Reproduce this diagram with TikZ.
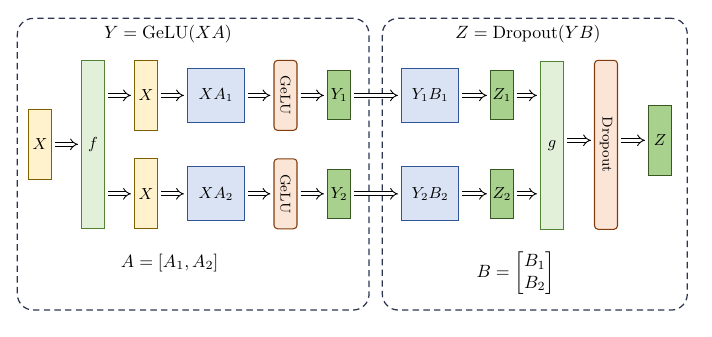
\documentclass[tikz,border=0pt]{standalone}
\usepackage{amsmath}
\usetikzlibrary{arrows.meta}
\def\PX{0.5625pt}
\definecolor{yelF}{HTML}{FFF2CC}\definecolor{yelD}{HTML}{7F6000}
\definecolor{lgF}{HTML}{E2F0D9}\definecolor{lgD}{HTML}{548235}
\definecolor{blF}{HTML}{DAE3F3}\definecolor{blD}{HTML}{2F5597}
\definecolor{orF}{HTML}{FBE5D6}\definecolor{orD}{HTML}{843C0C}
\definecolor{grF}{HTML}{A9D18E}\definecolor{grD}{HTML}{385723}
\definecolor{frameC}{HTML}{2B3550}
\tikzset{
  box/.style={draw, line width=0.6pt, inner sep=0pt, font=\small},
  yelbox/.style={box, fill=yelF, draw=yelD, minimum width=23*\PX, minimum height=70*\PX},
  tallbox/.style={box, fill=lgF, draw=lgD, minimum width=23*\PX, minimum height=168*\PX},
  bluebox/.style={box, fill=blF, draw=blD, minimum width=57*\PX, minimum height=54*\PX},
  actbox/.style={box, fill=orF, draw=orD, rounded corners=2pt, minimum width=23*\PX, font=\footnotesize},
  grbox/.style={box, fill=grF, draw=grD, minimum width=23*\PX, minimum height=49*\PX},
  frame/.style={draw=frameC, line width=0.7pt, dash pattern=on 3.6pt off 2.4pt, rounded corners=9pt, inner sep=0pt},
  dbl/.style={-{Implies}, double, double distance=1.8pt, line width=0.5pt, shorten >=1.7pt, shorten <=1.7pt},
}
\begin{document}
\begin{tikzpicture}[x=0.5625pt, y=-0.5625pt]
\useasboundingbox (0,0) rectangle (712,337);
% frames
\node[frame, minimum width=351.7*\PX, minimum height=291.7*\PX] (LF) at (193.2,164.2) {};
\node[frame, minimum width=305*\PX, minimum height=291.7*\PX] (RF) at (534.8,164.2) {};
\node (LT) at (168,34) {$Y = \mathrm{GeLU}(XA)$};
\node (RT) at (528,34) {$Z = \mathrm{Dropout}(YB)$};
% left part
\node[yelbox] (X0) at (40,144.3) {$X$};
\node[tallbox] (f) at (93,144.5) {$f$};
\node[yelbox] (X1) at (146,95.4) {$X$};
\node[yelbox] (X2) at (146,193.8) {$X$};
\node[bluebox] (XA1) at (216,95.4) {$XA_1$};
\node[bluebox] (XA2) at (216,193.8) {$XA_2$};
\node[actbox, minimum height=70*\PX] (G1) at (285.5,95.4) {\rotatebox{-90}{GeLU}};
\node[actbox, minimum height=70*\PX] (G2) at (285.5,193.8) {\rotatebox{-90}{GeLU}};
\node[grbox] (Y1) at (339,95.4) {$Y_1$};
\node[grbox] (Y2) at (339,193.8) {$Y_2$};
\node (Aeq) at (169.7,262.7) {$A = [A_1, A_2]$};
% right part
\node[bluebox] (YB1) at (430,95.4) {$Y_1B_1$};
\node[bluebox] (YB2) at (430,193.8) {$Y_2B_2$};
\node[grbox] (Z1) at (502,95.4) {$Z_1$};
\node[grbox] (Z2) at (502,193.8) {$Z_2$};
\node[tallbox] (g) at (552,145.3) {$g$};
\node[actbox, minimum height=169*\PX] (D) at (606,144.8) {\rotatebox{-90}{Dropout}};
\node[box, fill=grF, draw=grD, minimum width=23*\PX, minimum height=70*\PX] (Z) at (660,140.3) {$Z$};
\node (Beq) at (515.8,273.3) {$B = \begin{bmatrix} B_1\\ B_2\end{bmatrix}$};
% arrows
\draw[dbl] (X0.east) -- (f.west |- X0.east);
\draw[dbl] (f.east |- X1.west) -- (X1.west);
\draw[dbl] (f.east |- X2.west) -- (X2.west);
\draw[dbl] (X1) -- (XA1);
\draw[dbl] (X2) -- (XA2);
\draw[dbl] (XA1) -- (G1);
\draw[dbl] (XA2) -- (G2);
\draw[dbl] (G1) -- (Y1);
\draw[dbl] (G2) -- (Y2);
\draw[dbl] (Y1.east) -- (YB1.west |- Y1.east);
\draw[dbl] (Y2.east) -- (YB2.west |- Y2.east);
\draw[dbl] (YB1.east |- Z1.west) -- (Z1.west);
\draw[dbl] (YB2.east |- Z2.west) -- (Z2.west);
\draw[dbl] (Z1.east) -- (g.west |- Z1.east);
\draw[dbl] (Z2.east) -- (g.west |- Z2.east);
\draw[dbl] (g.east |- Z.west) -- (D.west |- Z.west);
\draw[dbl] (D.east |- Z.west) -- (Z.west);
\end{tikzpicture}
\end{document}
